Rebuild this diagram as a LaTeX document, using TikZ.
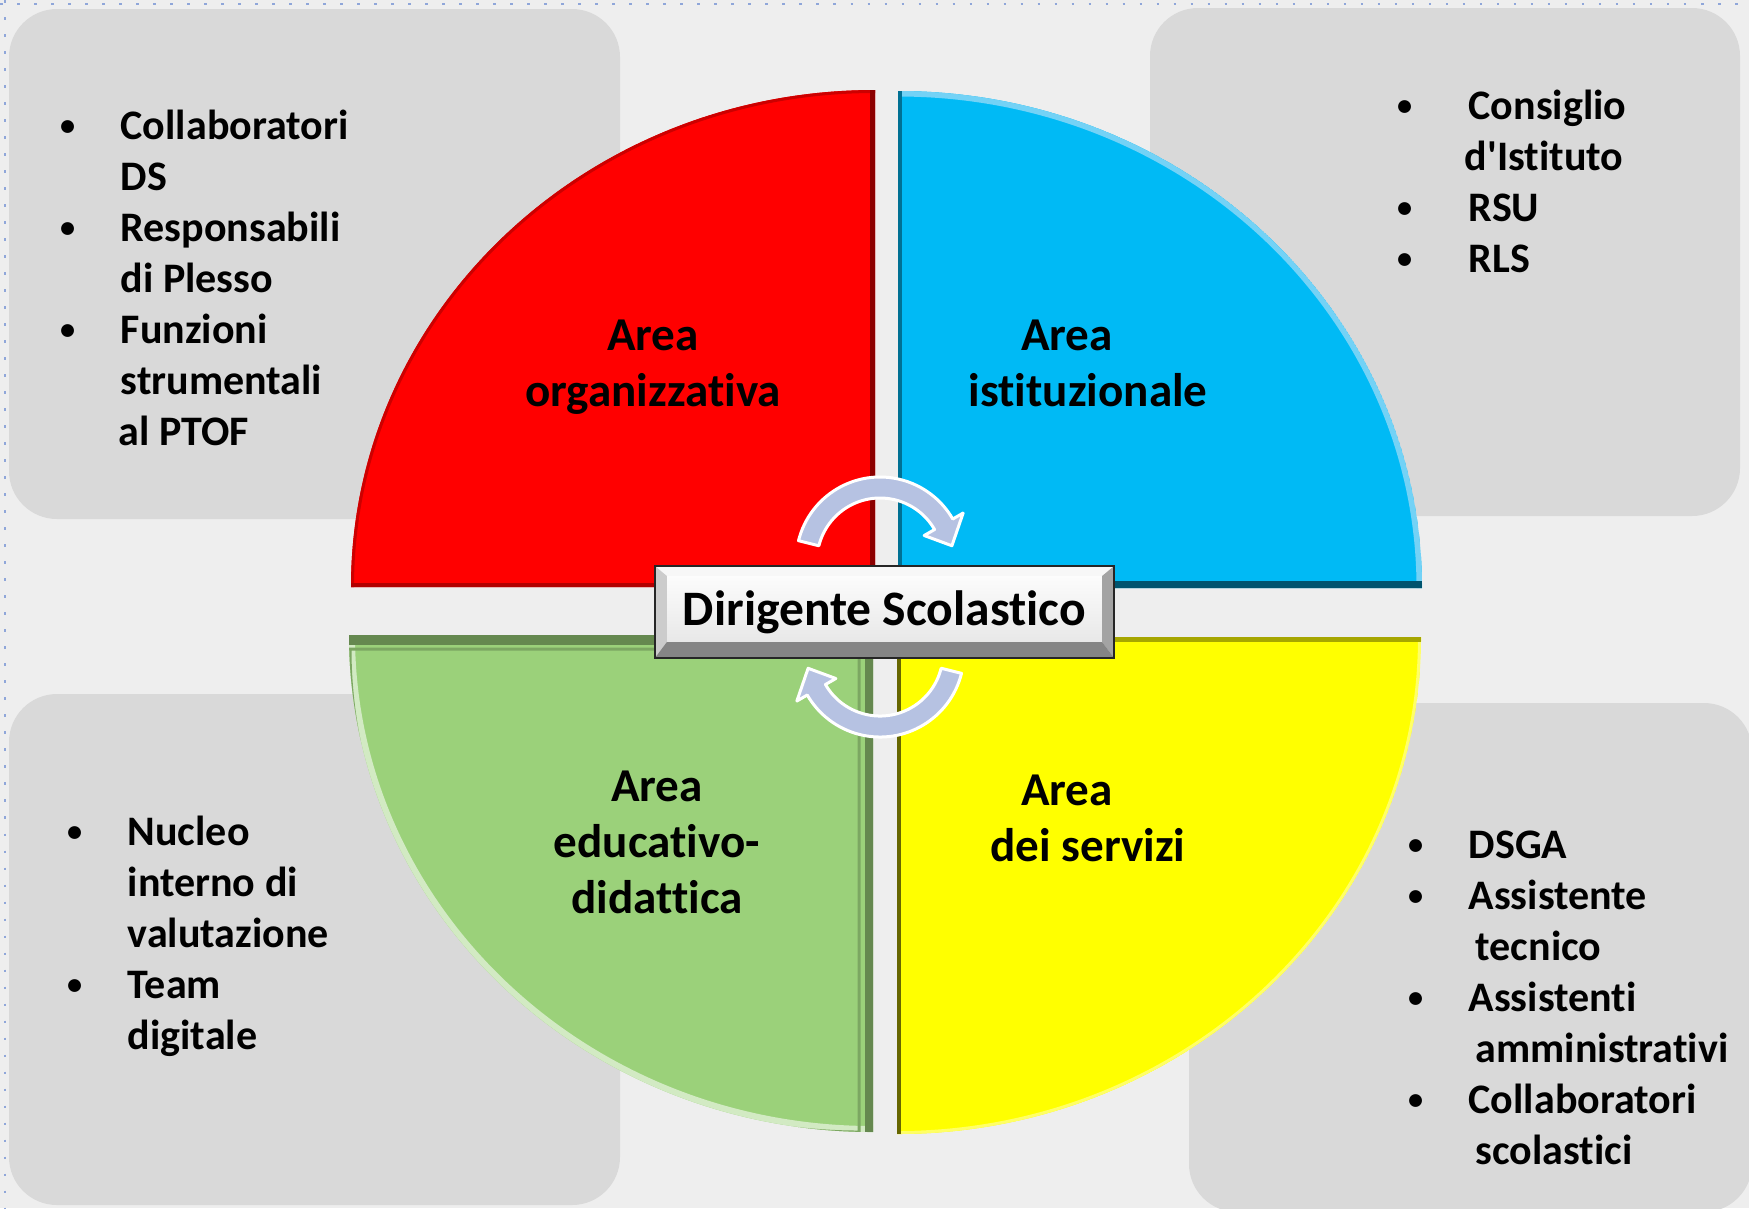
\documentclass[tikz,border=0pt]{standalone}
\usepackage{fontspec}
\setmainfont{Carlito}[Ligatures={NoCommon}]
\usetikzlibrary{calc}

\definecolor{bgpage}{HTML}{EEEEEE}
\definecolor{panel}{HTML}{D9D9D9}
\definecolor{qred}{HTML}{FF0000}
\definecolor{qblue}{HTML}{00BAF5}
\definecolor{qgreen}{HTML}{9BD17A}
\definecolor{qyellow}{HTML}{FFFF00}
\definecolor{turncol}{HTML}{B6C2E2}
\definecolor{dotline}{HTML}{8FA6D9}

% quarter of the ellipse: corner, start angle, sweep
\def\qpath(#1)(#2:#3){(#1) -- ++(#2:524 and 497) arc[start angle=#2, delta angle=#3, x radius=524, y radius=497] -- cycle}
\def\qrim(#1)(#2:#3){(#1) ++(#2:524 and 497) arc[start angle=#2, delta angle=#3, x radius=524, y radius=497]}
\def\bul{\makebox[0pt]{\raisebox{0.09em}{\scalebox{0.72}{\textbullet}}}}

\begin{document}
\begin{tikzpicture}[x=0.01cm, y=0.01cm,
    panel/.style={fill=panel, rounded corners=4.8mm},
    listtext/.style={anchor=base west, inner sep=0, font=\bfseries\fontsize{11.95}{14.51}\selectfont},
    arealabel/.style={anchor=base, inner sep=0, font=\bfseries\fontsize{13.4}{15.93}\selectfont},
    dsbox/.style={draw=black!85, line width=0.25mm, inner sep=0,
        minimum width=4.59cm, minimum height=0.92cm,
        top color=white, bottom color=black!11,
        font=\bfseries\fontsize{14.1}{17}\selectfont,
        path picture={
            \coordinate (bnw) at (path picture bounding box.north west);
            \coordinate (bne) at (path picture bounding box.north east);
            \coordinate (bsw) at (path picture bounding box.south west);
            \coordinate (bse) at (path picture bounding box.south east);
            \fill[black!3] (bnw) -- (bne) -- ($(bne)+(-12,-10)$) -- ($(bnw)+(12,-10)$) -- cycle;
            \fill[black!20] (bnw) -- ($(bnw)+(12,-10)$) -- ($(bsw)+(12,16)$) -- (bsw) -- cycle;
            \fill[black!36] (bne) -- (bse) -- ($(bse)+(-12,16)$) -- ($(bne)+(-12,-10)$) -- cycle;
            \fill[black!48] (bsw) -- ($(bsw)+(12,16)$) -- ($(bse)+(-12,16)$) -- (bse) -- cycle;
        }},
    turn/.style={fill=turncol, draw=white, line width=0.3mm, line join=round}]

    %%% page
    \fill[bgpage] (0,0) rectangle (1749,-1208);
    \useasboundingbox (0,0) rectangle (1749,-1208);
    \draw[dotline, line width=0.25mm, dash pattern=on 0.25mm off 1.45mm] (0,-4) -- (1749,-4);
    \draw[dotline, line width=0.25mm, dash pattern=on 0.25mm off 1.45mm] (5,0) -- (5,-1208);

    %%% grey panels
    \fill[panel] (9,-9) rectangle (620,-519);
    \fill[panel] (1150,-8) rectangle (1740,-516);
    \fill[panel] (9,-694) rectangle (620,-1205);
    \fill[panel] (1189,-703) rectangle (1752,-1212);

    %%% quadrants
    \coordinate (cred) at (875,-587);
    \coordinate (cblue) at (898,-588);
    \coordinate (cgreen) at (873,-635);
    \coordinate (cyel) at (897,-637);

    \begin{scope}
        \clip \qpath(cred)(180:-90);
        \fill[qred] \qpath(cred)(180:-90);
        \draw[line width=0.6mm, red!80!black] \qrim(cred)(180:-90);
        \draw[line width=1mm, red!55!black] (cred) -- ++(0,497);
        \draw[line width=0.8mm, red!70!black] (cred) -- ++(-524,0);
    \end{scope}

    \begin{scope}
        \clip \qpath(cblue)(90:-90);
        \fill[qblue] \qpath(cblue)(90:-90);
        \draw[line width=1.1mm, cyan!55!white] \qrim(cblue)(90:-90);
        \draw[line width=0.8mm, qblue!60!black] (cblue) -- ++(0,497);
        \draw[line width=1.4mm, qblue!45!black] (cblue) -- ++(524,0);
    \end{scope}

    \begin{scope}
        \clip \qpath(cgreen)(180:90);
        \fill[qgreen] \qpath(cgreen)(180:90);
        \draw[line width=1.2mm, qgreen!45!white] \qrim(cgreen)(180:90);
        \draw[line width=2mm, qgreen!65!black] (cgreen) -- ++(-524,0);
        \draw[line width=1.6mm, qgreen!65!black] (cgreen) -- ++(0,-497);
        \draw[line width=0.3mm, qgreen!80!black] (859,-649) -- ++(-509,0) arc[start angle=180, end angle=270, x radius=509, y radius=483] -- cycle;
    \end{scope}

    \begin{scope}
        \clip \qpath(cyel)(0:-90);
        \fill[qyellow] \qpath(cyel)(0:-90);
        \draw[line width=0.6mm, qyellow!60!white] \qrim(cyel)(0:-90);
        \draw[line width=1mm, qyellow!65!black] (cyel) -- ++(524,0);
        \draw[line width=0.8mm, qyellow!40!black] (cyel) -- ++(0,-497);
    \end{scope}

    %%% turning arrows
    \foreach \cx/\cy/\rot in {880/-561/0, 880/-653/180}
        \filldraw[turn, shift={(\cx,\cy)}, rotate=\rot]
            (166:84) arc[start angle=166, end angle=30, radius=84] -- (30:96)
            -- (12:73.5) -- (30:51) -- (30:63) arc[start angle=30, end angle=166, radius=63] -- cycle;

    %%% centre
    \node[dsbox] (ds) at (884.5,-612) {Dirigente Scolastico};

    %%% area labels
    \node[arealabel] (aorg) at (653,-350) {\begin{tabular}[t]{@{}c@{}}Area\\organizzativa\end{tabular}};
    \node[arealabel] (aist) at (1088,-350) {\begin{tabular}[t]{@{}c@{}}Area\hspace*{4.2mm}\\istituzionale\end{tabular}};
    \node[arealabel] (aedu) at (657,-801) {\begin{tabular}[t]{@{}c@{}}Area\\educativo-\\didattica\end{tabular}};
    \node[arealabel] (aser) at (1088,-805) {\begin{tabular}[t]{@{}c@{}}Area\hspace*{4.2mm}\\dei servizi\end{tabular}};

    %%% lists
    \node[listtext] (ltl) at (67,-139) {\begin{tabular}[t]{@{}l@{\hspace{5.3mm}}l@{}}
        \bul & Collaboratori\\
         & DS\\
        \bul & Responsabili\\
         & di Plesso\\
        \bul & Funzioni\\
         & strumentali\\
         & \hspace*{-0.2mm}al PTOF
    \end{tabular}};

    \node[listtext] (ltr) at (1404,-119) {\begin{tabular}[t]{@{}l@{\hspace{6.4mm}}l@{}}
        \bul & Consiglio\\
         & \hspace*{-0.4mm}d\textquotesingle Istituto\\
        \bul & RSU\\
        \bul & RLS
    \end{tabular}};

    \node[listtext] (lbl) at (74,-845) {\begin{tabular}[t]{@{}l@{\hspace{5.3mm}}l@{}}
        \bul & Nucleo\\
         & interno di\\
         & valutazione\\
        \bul & Team\\
         & digitale
    \end{tabular}};

    \node[listtext] (lbr) at (1415,-858) {\begin{tabular}[t]{@{}l@{\hspace{5.3mm}}l@{}}
        \bul & DSGA\\
        \bul & Assistente\\
         & \hspace*{0.7mm}tecnico\\
        \bul & Assistenti\\
         & \hspace*{0.7mm}amministrativi\\
        \bul & Collaboratori\\
         & \hspace*{0.7mm}scolastici
    \end{tabular}};

\end{tikzpicture}
\end{document}
